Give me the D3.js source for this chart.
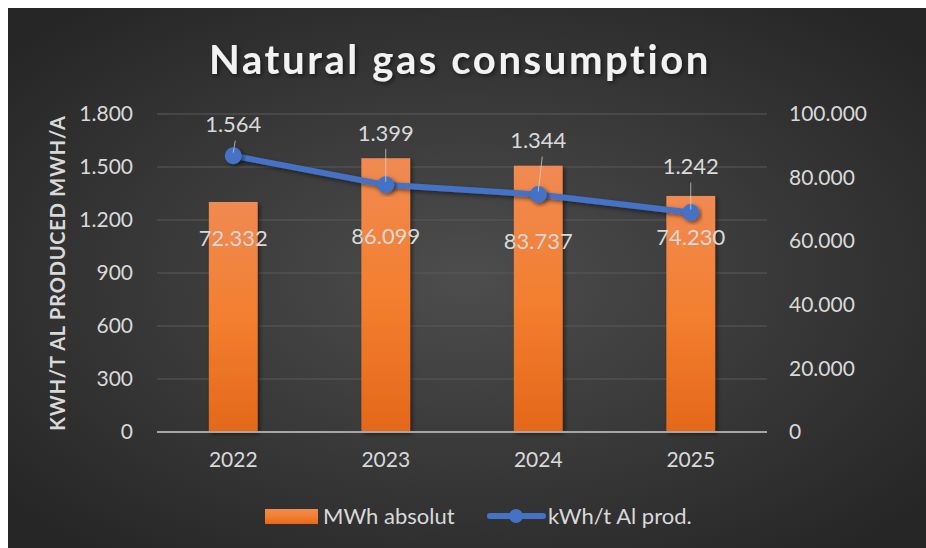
<!DOCTYPE html>
<html lang="en">
<head>
    <meta charset="UTF-8">
    <title>Natural gas consumption</title>
    <script src="https://d3js.org/d3.v7.min.js"></script>
    <style>
        body { margin: 0; background: #fff; }
        text { font-family: Lato, "Open Sans", sans-serif; }
    </style>
</head>
<body>
    <div id="chart"></div>

    <script>
(function(d3) {
    'use strict';

    var years = ['2022', '2023', '2024', '2025'];
    var mwhAbsolut = [72332, 86099, 83737, 74230];   // bars, right axis
    var kwhPerTon = [1564, 1399, 1344, 1242];        // line, left axis
    var leftTicks = [0, 300, 600, 900, 1200, 1500, 1800];
    var rightTicks = [0, 20000, 40000, 60000, 80000, 100000];

    // label nudges (layout only)
    var lineLabelLift = [31, 52, 54, 46];
    var barLabelY = [238, 236, 241, 237];

    var width = 926, height = 548;
    var margin = { top: 114, right: 159, bottom: 116, left: 157 };
    var fmt = function(v) { return d3.format(',')(v).replace(/,/g, '.'); };

    var svg = d3.select('#chart').append('svg')
        .attr('width', width).attr('height', height);

    var defs = svg.append('defs');
    var bg = defs.append('radialGradient').attr('id', 'bg')
        .attr('cx', '50%').attr('cy', '50%').attr('r', '65%');
    bg.append('stop').attr('offset', '0%').attr('stop-color', '#4d4d4d');
    bg.append('stop').attr('offset', '100%').attr('stop-color', '#262626');

    var barGrad = defs.append('linearGradient').attr('id', 'barGrad')
        .attr('x1', 0).attr('y1', 0).attr('x2', 0).attr('y2', 1);
    barGrad.append('stop').attr('offset', '0%').attr('stop-color', '#f08a52');
    barGrad.append('stop').attr('offset', '50%').attr('stop-color', '#f37f30');
    barGrad.append('stop').attr('offset', '100%').attr('stop-color', '#e4681a');

    var shadow = defs.append('filter').attr('id', 'shadow')
        .attr('x', '-20%').attr('y', '-20%').attr('width', '140%').attr('height', '140%');
    shadow.append('feDropShadow').attr('dx', 2).attr('dy', 2)
        .attr('stdDeviation', 2).attr('flood-color', '#000').attr('flood-opacity', 0.5);

    svg.append('rect').attr('x', 8).attr('y', 8)
        .attr('width', width - 8).attr('height', height - 8)
        .attr('fill', 'url(#bg)');

    var x = d3.scaleBand().domain(years)
        .range([margin.left, width - margin.right]).paddingInner(0.68).paddingOuter(0.34);
    var yL = d3.scaleLinear().domain([0, 1800]).range([height - margin.bottom, margin.top]);
    var yR = d3.scaleLinear().domain([0, 100000]).range([height - margin.bottom, margin.top]);

    // gridlines
    svg.append('g').selectAll('line').data(leftTicks.slice(1)).enter().append('line')
        .attr('x1', margin.left).attr('x2', width - margin.right)
        .attr('y1', function(d) { return yL(d); }).attr('y2', function(d) { return yL(d); })
        .attr('stroke', '#5a5a5a').attr('stroke-width', 1);

    // left axis
    var axL = svg.append('g').attr('transform', 'translate(' + (margin.left - 24) + ',0)')
        .call(d3.axisLeft(yL).tickValues(leftTicks).tickFormat(fmt).tickSize(0).tickPadding(0));
    axL.select('.domain').remove();
    axL.selectAll('text').attr('fill', '#d9d9d9').attr('font-size', 21);

    // right axis
    var axR = svg.append('g').attr('transform', 'translate(' + (width - margin.right + 22) + ',0)')
        .call(d3.axisRight(yR).tickValues(rightTicks).tickFormat(fmt).tickSize(0).tickPadding(0));
    axR.select('.domain').remove();
    axR.selectAll('text').attr('fill', '#d9d9d9').attr('font-size', 21);

    // bars
    svg.append('g').selectAll('rect').data(mwhAbsolut).enter().append('rect')
        .attr('x', function(d, i) { return x(years[i]); })
        .attr('y', function(d) { return yR(d); })
        .attr('width', x.bandwidth())
        .attr('height', function(d) { return yR(0) - yR(d); })
        .attr('fill', 'url(#barGrad)')
        .attr('filter', 'url(#shadow)');

    // baseline
    svg.append('line').attr('x1', margin.left).attr('x2', width - margin.right)
        .attr('y1', yL(0)).attr('y2', yL(0))
        .attr('stroke', '#a6a6a6').attr('stroke-width', 2);

    // x axis labels
    var axX = svg.append('g').attr('transform', 'translate(0,' + yL(0) + ')')
        .call(d3.axisBottom(x).tickSize(0).tickPadding(20));
    axX.select('.domain').remove();
    axX.selectAll('text').attr('fill', '#d9d9d9').attr('font-size', 21);

    // bar labels
    svg.append('g').selectAll('text').data(mwhAbsolut).enter().append('text')
        .attr('x', function(d, i) { return x(years[i]) + x.bandwidth() / 2; })
        .attr('y', function(d, i) { return barLabelY[i]; })
        .attr('dy', '0.35em')
        .attr('text-anchor', 'middle')
        .attr('fill', '#d9d9d9').attr('font-size', 22)
        .text(fmt);

    // line
    var cx = function(d, i) { return x(years[i]) + x.bandwidth() / 2; };
    var line = d3.line().x(cx).y(function(d) { return yL(d); });
    svg.append('path').datum(kwhPerTon)
        .attr('d', line).attr('fill', 'none')
        .attr('stroke', '#4472c4').attr('stroke-width', 6)
        .attr('stroke-linejoin', 'round')
        .attr('filter', 'url(#shadow)');
    svg.append('g').selectAll('circle').data(kwhPerTon).enter().append('circle')
        .attr('cx', cx).attr('cy', function(d) { return yL(d); })
        .attr('r', 8.5).attr('fill', '#4472c4')
        .attr('filter', 'url(#shadow)');

    // leader lines + line labels
    svg.append('g').selectAll('line').data(kwhPerTon).enter().append('line')
        .attr('x1', cx)
        .attr('y1', function(d) { return yL(d) - 3; })
        .attr('x2', function(d, i) { return cx(d, i) + (i === 2 ? 4 : (i === 0 ? 2 : 0)); })
        .attr('y2', function(d, i) { return yL(d) - lineLabelLift[i] + 16; })
        .attr('stroke', '#d9d9d9').attr('stroke-opacity', 0.7).attr('stroke-width', 1);
    svg.append('g').selectAll('text').data(kwhPerTon).enter().append('text')
        .attr('x', cx)
        .attr('y', function(d, i) { return yL(d) - lineLabelLift[i]; })
        .attr('dy', '0.35em')
        .attr('text-anchor', 'middle')
        .attr('fill', '#d9d9d9').attr('font-size', 22)
        .text(fmt);

    // title
    svg.append('text').attr('x', 460).attr('y', 60)
        .attr('dy', '0.35em').attr('text-anchor', 'middle')
        .attr('fill', '#f2f2f2').attr('font-size', 40).attr('font-weight', 'bold')
        .attr('letter-spacing', 2.6)
        .attr('filter', 'url(#shadow)')
        .text('Natural gas consumption');

    // y axis title
    svg.append('text')
        .attr('transform', 'translate(58,' + ((yL(0) + yL(1800)) / 2) + ') rotate(-90)')
        .attr('dy', '0.35em').attr('text-anchor', 'middle')
        .attr('fill', '#d9d9d9').attr('font-size', 20).attr('font-weight', 'bold')
        .attr('letter-spacing', 0.8)
        .text('KWH/T AL PRODUCED MWH/A');

    // legend
    var lg = svg.append('g').attr('transform', 'translate(0,516)');
    lg.append('rect').attr('x', 265).attr('y', -7).attr('width', 53).attr('height', 15)
        .attr('fill', 'url(#barGrad)');
    lg.append('text').attr('x', 323).attr('dy', '0.35em')
        .attr('fill', '#d9d9d9').attr('font-size', 22).text('MWh absolut');
    lg.append('line').attr('x1', 490).attr('x2', 543)
        .attr('stroke', '#4472c4').attr('stroke-width', 6).attr('stroke-linecap', 'round');
    lg.append('circle').attr('cx', 516).attr('r', 7).attr('fill', '#4472c4');
    lg.append('text').attr('x', 548).attr('dy', '0.35em')
        .attr('fill', '#d9d9d9').attr('font-size', 22).text('kWh/t Al prod.');

})(window.d3);
    </script>
</body>
</html>
